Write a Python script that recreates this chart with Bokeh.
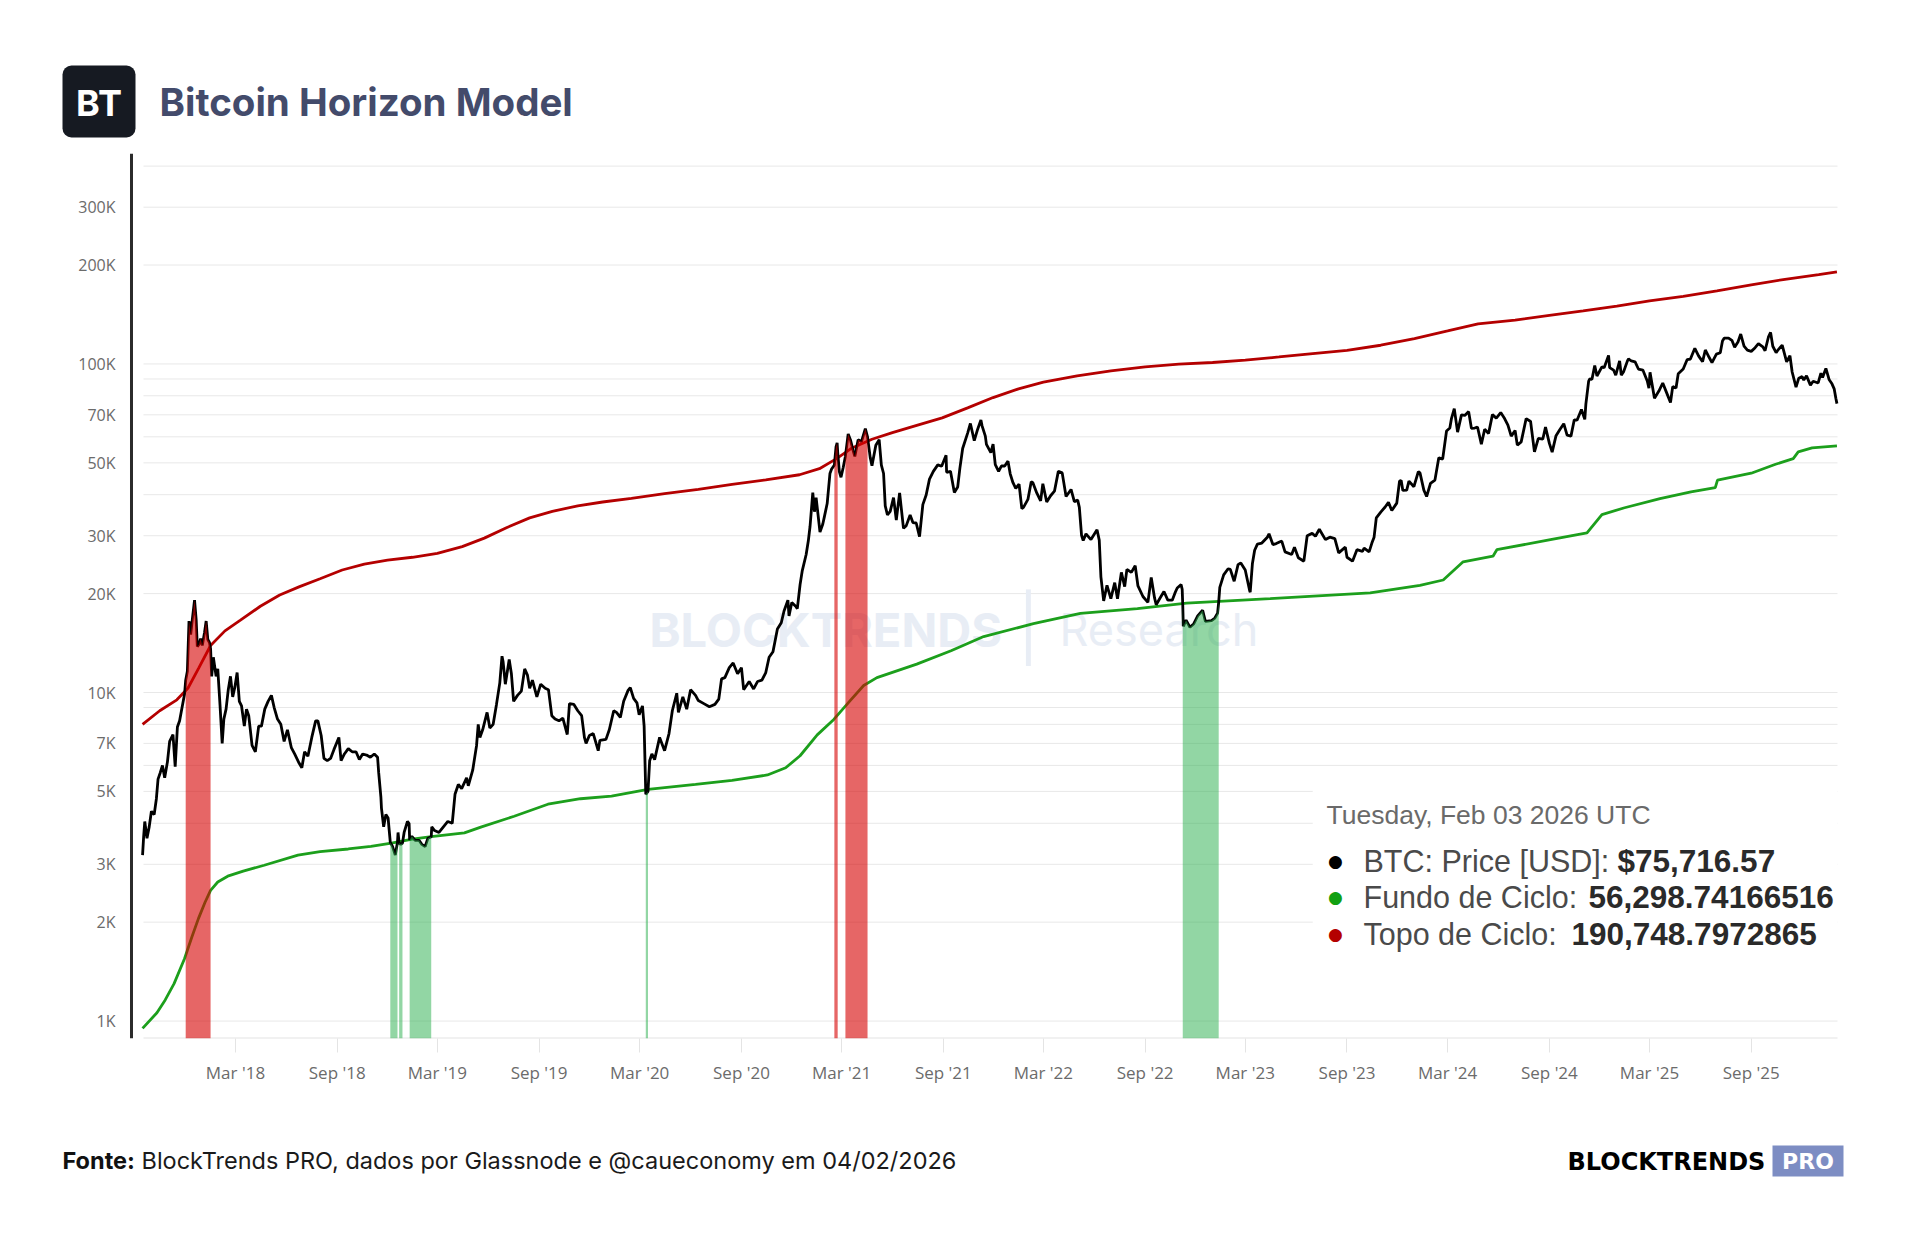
import pandas as pd
from bokeh.plotting import figure
from bokeh.layouts import column
from bokeh.models import (Range1d, FixedTicker, DatetimeTickFormatter, Label, BoxAnnotation)
from bokeh.embed import file_html
from bokeh.resources import INLINE

# ------------------------------------------------------------------ data
btc_2017 = [("2017-09-14", 3200), ("2017-09-16", 3650), ("2017-09-18", 4050), ("2017-09-22", 3600),
            ("2017-09-26", 3900), ("2017-09-30", 4350), ("2017-10-05", 4250), ("2017-10-09", 4750),
            ("2017-10-12", 5450), ("2017-10-16", 5700), ("2017-10-20", 6000), ("2017-10-24", 5500),
            ("2017-10-29", 6150), ("2017-11-02", 7100), ("2017-11-08", 7450), ("2017-11-12", 5950),
            ("2017-11-16", 7850), ("2017-11-20", 8200), ("2017-11-26", 9300), ("2017-11-29", 9900),
            ("2017-12-01", 10900), ("2017-12-04", 11600), ("2017-12-07", 16500), ("2017-12-10", 15000),
            ("2017-12-13", 16700), ("2017-12-17", 19100), ("2017-12-20", 16600), ("2017-12-22", 13800),
            ("2017-12-25", 14000), ("2017-12-28", 14600), ("2017-12-31", 13900)]
btc_2018 = [("2018-01-04", 15200), ("2018-01-07", 16500), ("2018-01-10", 14500), ("2018-01-13", 14200),
            ("2018-01-15", 13600), ("2018-01-17", 11200), ("2018-01-20", 12800), ("2018-01-25", 11200),
            ("2018-01-28", 11800), ("2018-02-01", 9200), ("2018-02-05", 7000), ("2018-02-08", 8300),
            ("2018-02-12", 8900), ("2018-02-16", 10200), ("2018-02-20", 11200), ("2018-02-24", 9700),
            ("2018-02-28", 10400), ("2018-03-04", 11500), ("2018-03-08", 9400), ("2018-03-12", 9100),
            ("2018-03-17", 7900), ("2018-03-21", 8900), ("2018-03-25", 8500), ("2018-03-31", 6900),
            ("2018-04-06", 6600), ("2018-04-12", 7900), ("2018-04-17", 7900), ("2018-04-23", 8900),
            ("2018-04-29", 9400), ("2018-05-05", 9800), ("2018-05-10", 9000), ("2018-05-16", 8300),
            ("2018-05-22", 8000), ("2018-05-28", 7100), ("2018-06-03", 7700), ("2018-06-10", 6800),
            ("2018-06-16", 6500), ("2018-06-24", 6100), ("2018-06-29", 5900), ("2018-07-04", 6600),
            ("2018-07-10", 6400), ("2018-07-17", 7300), ("2018-07-24", 8200), ("2018-07-28", 8200),
            ("2018-08-03", 7400), ("2018-08-08", 6300), ("2018-08-14", 6200), ("2018-08-20", 6300),
            ("2018-08-26", 6700), ("2018-09-04", 7300), ("2018-09-08", 6200), ("2018-09-14", 6500),
            ("2018-09-21", 6750), ("2018-09-28", 6600), ("2018-10-05", 6600), ("2018-10-11", 6250),
            ("2018-10-17", 6500), ("2018-10-24", 6450), ("2018-10-31", 6350), ("2018-11-07", 6500),
            ("2018-11-13", 6350), ("2018-11-15", 5700), ("2018-11-19", 4800), ("2018-11-20", 4450),
            ("2018-11-24", 3900), ("2018-11-28", 4250), ("2018-12-02", 4150), ("2018-12-06", 3500),
            ("2018-12-10", 3400), ("2018-12-15", 3200), ("2018-12-19", 3500), ("2018-12-20", 3750),
            ("2018-12-22", 3480), ("2018-12-25", 3450), ("2018-12-28", 3480), ("2018-12-31", 3750)]
btc_2019 = [("2019-01-06", 4050), ("2019-01-09", 3990), ("2019-01-10", 3560), ("2019-01-14", 3650),
            ("2019-01-20", 3550), ("2019-01-27", 3550), ("2019-02-01", 3450), ("2019-02-07", 3400),
            ("2019-02-12", 3600), ("2019-02-18", 3640), ("2019-02-19", 3900), ("2019-02-24", 3800),
            ("2019-03-04", 3750), ("2019-03-12", 3900), ("2019-03-20", 4050), ("2019-03-28", 4000),
            ("2019-04-02", 4900), ("2019-04-08", 5250), ("2019-04-14", 5100), ("2019-04-23", 5500),
            ("2019-04-26", 5200), ("2019-05-04", 5800), ("2019-05-11", 6900), ("2019-05-14", 8000),
            ("2019-05-17", 7300), ("2019-05-22", 7700), ("2019-05-30", 8700), ("2019-06-04", 7800),
            ("2019-06-10", 8000), ("2019-06-16", 9200), ("2019-06-22", 10700), ("2019-06-26", 12900),
            ("2019-06-28", 12400), ("2019-07-02", 10600), ("2019-07-09", 12600), ("2019-07-13", 11400),
            ("2019-07-17", 9400), ("2019-07-24", 9800), ("2019-07-31", 10100), ("2019-08-06", 11800),
            ("2019-08-11", 11300), ("2019-08-15", 10300), ("2019-08-20", 10900), ("2019-08-28", 9700),
            ("2019-09-04", 10600), ("2019-09-12", 10300), ("2019-09-18", 10200), ("2019-09-24", 8500),
            ("2019-09-30", 8300), ("2019-10-07", 8200), ("2019-10-14", 8350), ("2019-10-22", 7450),
            ("2019-10-26", 9250), ("2019-11-03", 9200), ("2019-11-10", 8800), ("2019-11-17", 8500),
            ("2019-11-22", 7300), ("2019-11-25", 7000), ("2019-12-01", 7400), ("2019-12-08", 7500),
            ("2019-12-17", 6650), ("2019-12-20", 7150), ("2019-12-31", 7200)]
btc_2020 = [("2020-01-06", 7700), ("2020-01-14", 8800), ("2020-01-19", 8700), ("2020-01-26", 8400),
            ("2020-02-01", 9400), ("2020-02-09", 10150), ("2020-02-13", 10350), ("2020-02-19", 9600),
            ("2020-02-25", 9300), ("2020-02-29", 8550), ("2020-03-06", 9100), ("2020-03-09", 7900),
            ("2020-03-12", 4900), ("2020-03-16", 5000), ("2020-03-19", 6200), ("2020-03-23", 6500),
            ("2020-03-28", 6250), ("2020-04-06", 7300), ("2020-04-15", 6650), ("2020-04-23", 7500),
            ("2020-04-29", 8800), ("2020-05-07", 9950), ("2020-05-10", 8700), ("2020-05-18", 9700),
            ("2020-05-25", 8900), ("2020-06-01", 10200), ("2020-06-10", 9800), ("2020-06-15", 9450),
            ("2020-06-25", 9250), ("2020-07-05", 9050), ("2020-07-15", 9200), ("2020-07-22", 9550),
            ("2020-07-27", 11000), ("2020-08-02", 11100), ("2020-08-10", 11900), ("2020-08-17", 12300),
            ("2020-08-25", 11400), ("2020-09-01", 11900), ("2020-09-05", 10200), ("2020-09-15", 10800),
            ("2020-09-23", 10250), ("2020-09-30", 10800), ("2020-10-08", 10900), ("2020-10-15", 11500),
            ("2020-10-21", 12800), ("2020-10-28", 13300), ("2020-11-05", 15600), ("2020-11-12", 16300),
            ("2020-11-17", 17700), ("2020-11-24", 19100), ("2020-11-26", 17100), ("2020-12-01", 18800),
            ("2020-12-08", 18300), ("2020-12-11", 18000), ("2020-12-16", 21300), ("2020-12-20", 23500),
            ("2020-12-27", 26300), ("2020-12-31", 29000)]
btc_2021 = [("2021-01-03", 32000), ("2021-01-08", 40600), ("2021-01-11", 35500), ("2021-01-14", 39200),
            ("2021-01-21", 30800), ("2021-01-26", 32500), ("2021-01-29", 34300), ("2021-02-03", 37600),
            ("2021-02-08", 46400), ("2021-02-11", 47900), ("2021-02-16", 49200), ("2021-02-19", 55900),
            ("2021-02-21", 57500), ("2021-02-22", 54000), ("2021-02-25", 47000), ("2021-02-28", 45200),
            ("2021-03-04", 48400), ("2021-03-08", 52400), ("2021-03-13", 61200), ("2021-03-17", 58800),
            ("2021-03-22", 54500), ("2021-03-25", 52300), ("2021-03-31", 58800), ("2021-04-06", 58000),
            ("2021-04-13", 63500), ("2021-04-17", 60000), ("2021-04-22", 51700), ("2021-04-25", 49000),
            ("2021-05-02", 56600), ("2021-05-08", 58800), ("2021-05-12", 49200), ("2021-05-16", 46400),
            ("2021-05-19", 37000), ("2021-05-23", 34700), ("2021-05-28", 35600), ("2021-06-03", 39200),
            ("2021-06-08", 33500), ("2021-06-14", 40500), ("2021-06-21", 31600), ("2021-06-26", 32200),
            ("2021-07-03", 34700), ("2021-07-08", 32900), ("2021-07-14", 32800), ("2021-07-20", 29800),
            ("2021-07-26", 37300), ("2021-08-01", 39900), ("2021-08-07", 44600), ("2021-08-14", 47100),
            ("2021-08-22", 49300), ("2021-08-29", 48800), ("2021-09-06", 52700), ("2021-09-07", 46800),
            ("2021-09-14", 47100), ("2021-09-21", 40600), ("2021-09-27", 42200), ("2021-10-01", 48200),
            ("2021-10-06", 55300), ("2021-10-15", 61600), ("2021-10-20", 65900), ("2021-10-27", 58400),
            ("2021-11-02", 63200), ("2021-11-08", 67500), ("2021-11-10", 64900), ("2021-11-16", 60300),
            ("2021-11-18", 56900), ("2021-11-26", 53700), ("2021-11-30", 57000), ("2021-12-04", 49400),
            ("2021-12-10", 47100), ("2021-12-15", 48900), ("2021-12-21", 48900), ("2021-12-27", 50600),
            ("2021-12-31", 46300)]
btc_2022 = [("2022-01-05", 43500), ("2022-01-10", 41800), ("2022-01-16", 43100), ("2022-01-21", 36300),
            ("2022-01-24", 36600), ("2022-02-01", 38700), ("2022-02-07", 43800), ("2022-02-10", 43500),
            ("2022-02-17", 40500), ("2022-02-24", 38300), ("2022-02-28", 43200), ("2022-03-07", 38000),
            ("2022-03-14", 39700), ("2022-03-21", 41000), ("2022-03-28", 47100), ("2022-04-04", 46600),
            ("2022-04-11", 39500), ("2022-04-20", 41500), ("2022-04-26", 38100), ("2022-05-02", 38500),
            ("2022-05-05", 36600), ("2022-05-09", 30100), ("2022-05-12", 29000), ("2022-05-17", 30400),
            ("2022-05-26", 29200), ("2022-06-06", 31300), ("2022-06-10", 29100), ("2022-06-13", 22500),
            ("2022-06-18", 19000), ("2022-06-24", 21200), ("2022-07-01", 19300), ("2022-07-08", 21600),
            ("2022-07-13", 19300), ("2022-07-20", 23200), ("2022-07-26", 21000), ("2022-07-30", 23700),
            ("2022-08-07", 23200), ("2022-08-14", 24300), ("2022-08-19", 21100), ("2022-08-28", 19600),
            ("2022-09-06", 18800), ("2022-09-12", 22400), ("2022-09-18", 19400), ("2022-09-21", 18500),
            ("2022-09-28", 19400), ("2022-10-05", 20300), ("2022-10-12", 19100), ("2022-10-20", 19100),
            ("2022-10-25", 20100), ("2022-10-29", 20800), ("2022-11-05", 21300), ("2022-11-07", 20600),
            ("2022-11-08", 18500), ("2022-11-09", 15900), ("2022-11-14", 16600), ("2022-11-21", 15800),
            ("2022-11-28", 16200), ("2022-12-05", 17100), ("2022-12-14", 17800), ("2022-12-19", 16450),
            ("2022-12-30", 16550)]
btc_2023 = [("2023-01-05", 16850), ("2023-01-10", 17450), ("2023-01-12", 18850), ("2023-01-14", 20900),
            ("2023-01-21", 22800), ("2023-01-29", 23800), ("2023-02-02", 23700), ("2023-02-09", 21800),
            ("2023-02-16", 24500), ("2023-02-21", 24800), ("2023-03-01", 23600), ("2023-03-09", 20400),
            ("2023-03-10", 20200), ("2023-03-14", 24700), ("2023-03-18", 27100), ("2023-03-23", 28300),
            ("2023-03-31", 28500), ("2023-04-10", 29700), ("2023-04-13", 30400), ("2023-04-20", 28200),
            ("2023-04-26", 28400), ("2023-05-06", 28900), ("2023-05-12", 26800), ("2023-05-24", 26300),
            ("2023-05-29", 27700), ("2023-06-05", 25700), ("2023-06-15", 25100), ("2023-06-21", 30000),
            ("2023-06-30", 30500), ("2023-07-06", 29900), ("2023-07-13", 31400), ("2023-07-24", 29200),
            ("2023-08-01", 29700), ("2023-08-10", 29400), ("2023-08-17", 26600), ("2023-08-29", 27700),
            ("2023-09-01", 25800), ("2023-09-11", 25100), ("2023-09-19", 27200), ("2023-09-29", 26900),
            ("2023-10-02", 27500), ("2023-10-11", 26800), ("2023-10-16", 28500), ("2023-10-20", 29700),
            ("2023-10-24", 34000), ("2023-11-01", 35400), ("2023-11-09", 36700), ("2023-11-15", 37900),
            ("2023-11-21", 35800), ("2023-11-30", 37700), ("2023-12-05", 44000), ("2023-12-08", 44200),
            ("2023-12-11", 41200), ("2023-12-18", 41300), ("2023-12-22", 44000), ("2023-12-31", 42300)]
btc_2024 = [("2024-01-08", 47000), ("2024-01-11", 46600), ("2024-01-18", 41300), ("2024-01-23", 39500),
            ("2024-01-30", 43300), ("2024-02-07", 44300), ("2024-02-14", 51800), ("2024-02-21", 51300),
            ("2024-02-28", 62500), ("2024-03-05", 63800), ("2024-03-08", 68300), ("2024-03-13", 73100),
            ("2024-03-19", 62000), ("2024-03-26", 70000), ("2024-04-01", 69700), ("2024-04-08", 71600),
            ("2024-04-13", 63700), ("2024-04-19", 63800), ("2024-04-24", 64300), ("2024-05-01", 57000),
            ("2024-05-07", 63300), ("2024-05-14", 61400), ("2024-05-21", 70100), ("2024-05-28", 68400),
            ("2024-06-05", 71100), ("2024-06-12", 68200), ("2024-06-18", 65100), ("2024-06-24", 60300),
            ("2024-07-01", 62700), ("2024-07-05", 56600), ("2024-07-12", 57900), ("2024-07-21", 68200),
            ("2024-07-29", 66800), ("2024-08-05", 54000), ("2024-08-12", 59400), ("2024-08-20", 59000),
            ("2024-08-25", 64200), ("2024-09-01", 57300), ("2024-09-06", 53900), ("2024-09-13", 60500),
            ("2024-09-20", 63200), ("2024-09-27", 65800), ("2024-10-03", 60700), ("2024-10-10", 60300),
            ("2024-10-16", 67600), ("2024-10-21", 67400), ("2024-10-29", 72700), ("2024-11-04", 67800),
            ("2024-11-06", 75600), ("2024-11-11", 88700), ("2024-11-13", 90000), ("2024-11-17", 89800),
            ("2024-11-22", 98900), ("2024-11-26", 91900), ("2024-12-05", 98000), ("2024-12-09", 97400),
            ("2024-12-17", 106100), ("2024-12-19", 97500), ("2024-12-26", 95800), ("2024-12-30", 92400)]
btc_2025 = [("2025-01-06", 102100), ("2025-01-09", 92500), ("2025-01-13", 94500), ("2025-01-20", 102000),
            ("2025-01-22", 103700), ("2025-01-27", 102100), ("2025-02-03", 101400), ("2025-02-09", 96500),
            ("2025-02-17", 95800), ("2025-02-25", 88700), ("2025-02-28", 84400), ("2025-03-02", 94300),
            ("2025-03-10", 78600), ("2025-03-18", 82700), ("2025-03-25", 87500), ("2025-03-31", 82500),
            ("2025-04-08", 76300), ("2025-04-12", 85300), ("2025-04-18", 84500), ("2025-04-22", 93400),
            ("2025-05-01", 96500), ("2025-05-08", 103000), ("2025-05-14", 103500), ("2025-05-22", 111600),
            ("2025-05-29", 105600), ("2025-06-05", 101600), ("2025-06-10", 110300), ("2025-06-17", 104600),
            ("2025-06-22", 100900), ("2025-06-30", 107100), ("2025-07-07", 108200), ("2025-07-11", 117500),
            ("2025-07-14", 119800), ("2025-07-22", 119900), ("2025-07-28", 118000), ("2025-08-02", 112500),
            ("2025-08-08", 116600), ("2025-08-13", 123300), ("2025-08-19", 113300), ("2025-08-25", 110100),
            ("2025-09-01", 109200), ("2025-09-08", 112100), ("2025-09-14", 115300), ("2025-09-22", 112700),
            ("2025-09-26", 109700), ("2025-10-02", 120600), ("2025-10-06", 124700), ("2025-10-10", 113200),
            ("2025-10-16", 108200), ("2025-10-20", 110600), ("2025-10-27", 114100), ("2025-11-04", 101500),
            ("2025-11-10", 106000), ("2025-11-14", 94500), ("2025-11-21", 85000), ("2025-11-26", 90500),
            ("2025-12-02", 91500), ("2025-12-05", 89300), ("2025-12-10", 92000), ("2025-12-17", 86200),
            ("2025-12-22", 88600), ("2025-12-31", 87500)]
btc_2026 = [("2026-01-05", 93700), ("2026-01-08", 91000), ("2026-01-14", 96900), ("2026-01-20", 89500),
            ("2026-01-25", 87000), ("2026-01-29", 84000), ("2026-02-01", 78600), ("2026-02-03", 75716.57)]

cycle_top = [("2017-09-14", 8000), ("2017-10-15", 8800), ("2017-11-15", 9500), ("2017-12-05", 10300),
             ("2017-12-25", 11900), ("2018-01-15", 13900), ("2018-02-10", 15400), ("2018-03-10", 16600),
             ("2018-04-15", 18300), ("2018-05-20", 19800), ("2018-06-25", 21000), ("2018-08-01", 22200),
             ("2018-09-10", 23600), ("2018-10-20", 24600), ("2018-12-01", 25300), ("2019-01-15", 25800),
             ("2019-03-01", 26500), ("2019-04-15", 27800), ("2019-05-25", 29500), ("2019-07-05", 31800),
             ("2019-08-15", 34000), ("2019-09-25", 35600), ("2019-11-10", 37000), ("2019-12-25", 38000),
             ("2020-02-15", 39000), ("2020-04-15", 40300), ("2020-06-15", 41500), ("2020-08-15", 43000),
             ("2020-10-15", 44400), ("2020-12-15", 46000), ("2021-01-20", 48000), ("2021-02-20", 51500),
             ("2021-03-20", 55500), ("2021-04-25", 59000), ("2021-06-01", 61800), ("2021-07-15", 65000),
             ("2021-08-30", 68500), ("2021-10-15", 73500), ("2021-11-30", 79000), ("2022-01-15", 84000),
             ("2022-03-01", 88000), ("2022-05-01", 92000), ("2022-07-01", 95200), ("2022-09-01", 98000),
             ("2022-11-01", 99800), ("2023-01-01", 101000), ("2023-03-01", 102700), ("2023-05-01", 105000),
             ("2023-07-01", 107500), ("2023-09-01", 110000), ("2023-11-01", 114000), ("2024-01-01", 119500),
             ("2024-03-01", 126000), ("2024-04-25", 132500), ("2024-07-01", 136000), ("2024-09-01", 140500),
             ("2024-11-01", 145000), ("2025-01-01", 150000), ("2025-03-01", 155500), ("2025-05-01", 160500),
             ("2025-07-01", 167000), ("2025-09-01", 174000), ("2025-11-01", 181000), ("2026-01-01", 187000),
             ("2026-02-03", 190748.7972865)]

cycle_bottom = [("2017-09-14", 950), ("2017-10-10", 1060), ("2017-10-25", 1160), ("2017-11-10", 1300),
                ("2017-11-29", 1550), ("2017-12-12", 1800), ("2017-12-24", 2050), ("2018-01-05", 2300),
                ("2018-01-15", 2500), ("2018-01-28", 2650), ("2018-02-15", 2760), ("2018-03-15", 2860),
                ("2018-04-22", 2980), ("2018-06-22", 3200), ("2018-08-01", 3280), ("2018-09-21", 3340),
                ("2018-11-01", 3400), ("2018-12-08", 3480), ("2019-01-15", 3580), ("2019-02-18", 3640),
                ("2019-04-19", 3740), ("2019-05-20", 3900), ("2019-07-18", 4200), ("2019-09-17", 4570),
                ("2019-11-15", 4750), ("2020-01-10", 4840), ("2020-03-16", 5070), ("2020-06-10", 5250),
                ("2020-08-15", 5400), ("2020-10-18", 5610), ("2020-11-20", 5900), ("2020-12-16", 6420),
                ("2021-01-16", 7430), ("2021-02-15", 8280), ("2021-03-17", 9460), ("2021-04-10", 10500),
                ("2021-05-04", 11100), ("2021-07-15", 12200), ("2021-09-15", 13400), ("2021-11-13", 14800),
                ("2022-02-11", 16200), ("2022-05-07", 17400), ("2022-08-18", 18000), ("2022-11-15", 18700),
                ("2023-04-15", 19300), ("2023-10-13", 20100), ("2024-01-11", 21200), ("2024-02-22", 22000),
                ("2024-03-29", 25000), ("2024-05-22", 26000), ("2024-05-29", 27200), ("2024-09-03", 29200),
                ("2024-11-08", 30600), ("2024-12-05", 34800), ("2025-01-15", 36500), ("2025-03-20", 38900),
                ("2025-05-15", 40800), ("2025-06-28", 42000), ("2025-07-02", 44300), ("2025-09-01", 46500),
                ("2025-10-15", 49500), ("2025-11-16", 51500), ("2025-11-25", 54000), ("2025-12-20", 55500),
                ("2026-02-03", 56298.74166516)]

red_band_start = ["2017-12-01", "2021-02-16", "2021-03-08"]
red_band_end = ["2018-01-15", "2021-02-22", "2021-04-17"]
green_band_start = ["2018-12-06", "2018-12-22", "2019-01-10", "2020-03-12", "2022-11-08"]
green_band_end = ["2018-12-19", "2018-12-28", "2019-02-18", "2020-03-16", "2023-01-12"]

x_tick_dates = ["2018-03-01", "2018-09-01", "2019-03-01", "2019-09-01", "2020-03-01", "2020-09-01",
                "2021-03-01", "2021-09-01", "2022-03-01", "2022-09-01", "2023-03-01", "2023-09-01",
                "2024-03-01", "2024-09-01", "2025-03-01", "2025-09-01"]
y_label_ticks = [1000, 2000, 3000, 5000, 7000, 10000, 20000, 30000, 50000, 70000,
                 100000, 200000, 300000]
y_label_text = ["1K", "2K", "3K", "5K", "7K", "10K", "20K", "30K", "50K", "70K", "100K", "200K", "300K"]
y_grid_ticks = [1000, 2000, 3000, 4000, 5000, 6000, 7000, 8000, 9000,
                10000, 20000, 30000, 40000, 50000, 60000, 70000, 80000, 90000,
                100000, 200000, 300000, 400000]

tooltip_date = "Tuesday, Feb 03 2026 UTC"
title_text = "Bitcoin Horizon Model"
source_bold = "Fonte:"
source_text = "BlockTrends PRO, dados por Glassnode e @caueconomy em 04/02/2026"

# ------------------------------------------------------------------ prep
btc = btc_2017 + btc_2018 + btc_2019 + btc_2020 + btc_2021 + btc_2022 + btc_2023 + btc_2024 + btc_2025 + btc_2026
btc_x = pd.to_datetime([d for d, _ in btc])
btc_y = [v for _, v in btc]
btc_s = pd.Series(btc_y, index=btc_x)
top_x = pd.to_datetime([d for d, _ in cycle_top])
top_y = [v for _, v in cycle_top]
bot_x = pd.to_datetime([d for d, _ in cycle_bottom])
bot_y = [v for _, v in cycle_bottom]

W, H = 1920, 1254
HEAD_H = 153
FOOT_TOP = 1110
FL, FR, FB = 131, 1837, 1038            # plot-area edges on the page
Y0, Y1 = 885, 437000
PLOT_L, PLOT_R = pd.Timestamp("2017-08-25"), pd.Timestamp("2026-02-04")
DPP = (PLOT_R - PLOT_L) / (FR - FL)       # time per pixel
X_START = PLOT_L - FL * DPP
X_END = PLOT_R + (W - FR) * DPP
GRID_L = PLOT_L + 12 * DPP


def sy(Y):
    return FB - Y


def ms(d):
    return pd.Timestamp(d).value / 1e6


def strip(h):
    f = figure(width=W, height=h, x_range=Range1d(0, W), y_range=Range1d(0, h),
               x_axis_location=None, y_axis_location=None, output_backend="svg",
               toolbar_location=None, min_border=0)
    f.min_border_left = f.min_border_right = f.min_border_top = f.min_border_bottom = 0
    f.grid.grid_line_color = None
    f.outline_line_color = None
    f.background_fill_color = "white"
    f.border_fill_color = "white"
    return f


# ------------------------------------------------------------------ header
head = strip(HEAD_H)
head.add_layout(BoxAnnotation(left=62, right=135, top=HEAD_H - 65, bottom=HEAD_H - 137,
                              fill_color="#161a22", fill_alpha=1.0, line_color=None, border_radius=9))
head.add_layout(Label(x=98.5, y=HEAD_H - 102, text="BT", text_align="center", text_baseline="middle",
                      text_font="Inter", text_font_style="bold", text_font_size="36px", text_color="white"))
head.add_layout(Label(x=159, y=HEAD_H - 101, text=title_text, text_baseline="middle", text_font="Inter",
                      text_font_style="bold", text_font_size="38.5px", text_color="#434b6b"))

# ------------------------------------------------------------------ main chart
MAIN_H = FOOT_TOP - HEAD_H
p = figure(width=W, height=MAIN_H, x_axis_type="datetime", y_axis_type="log",
           x_range=Range1d(X_START, X_END), y_range=Range1d(Y0, Y1), y_axis_location=None,
           output_backend="svg", toolbar_location=None,
           min_border_left=0, min_border_right=0, min_border_top=0, min_border_bottom=FOOT_TOP - FB)
p.background_fill_color = "white"
p.border_fill_color = "white"
p.outline_line_color = None
p.grid.grid_line_color = None

p.xaxis.ticker = FixedTicker(ticks=[ms(d) for d in x_tick_dates])
p.xaxis.formatter = DatetimeTickFormatter(days="%b '%y", months="%b '%y", years="%b '%y")
p.xaxis.axis_line_color = None
p.xaxis.major_tick_line_color = "#e4e4e4"
p.xaxis.major_tick_out = 14
p.xaxis.major_tick_in = 0
p.xaxis.minor_tick_line_color = None
p.xaxis.major_label_standoff = 8
p.xaxis.major_label_text_font = "Open Sans"
p.xaxis.major_label_text_font_size = "17px"
p.xaxis.major_label_text_color = "#6b6b6b"

# horizontal grid, x baseline and y axis line
n = len(y_grid_ticks)
p.segment(x0=[GRID_L] * n, x1=[PLOT_R] * n, y0=y_grid_ticks, y1=y_grid_ticks,
          line_color="#e8e8e8", line_width=1, level="underlay")
p.segment(x0=[GRID_L], x1=[PLOT_R], y0=[Y0], y1=[Y0], line_color="#e4e4e4", line_width=2, level="underlay")
p.segment(x0=[PLOT_L], x1=[PLOT_L], y0=[Y0], y1=[Y1], line_color="#2b2b2b", line_width=3)

# y tick labels
for t, s in zip(y_label_ticks, y_label_text):
    p.add_layout(Label(x=115, y=t, x_units="screen", y_units="data", text=s, text_align="right",
                       text_baseline="middle", text_font="Open Sans", text_font_size="16px",
                       text_color="#6b6b6b"))

# watermark
wm = dict(x_units="screen", y_units="screen", text_baseline="middle", text_color="#e8edf5", level="underlay")
p.add_layout(Label(x=649, y=sy(629), text="BLOCKTRENDS", text_font="Inter", text_font_style="bold",
                   text_font_size="47px", **wm))
p.add_layout(Label(x=1028, y=sy(627), text="|", text_font="Inter", text_font_size="64px",
                   text_align="center", **wm))
p.add_layout(Label(x=1059, y=sy(629), text="Research", text_font="Inter", text_font_size="45px", **wm))

# model lines and price
p.line(bot_x, bot_y, line_color="#1c9f1c", line_width=2.8)
p.line(top_x, top_y, line_color="#b40000", line_width=2.8)
p.line(btc_x, btc_y, line_color="#000000", line_width=2.8)

# shaded periods: area under price where it breaks out of the model channel
for s, e in zip(red_band_start, red_band_end):
    seg = btc_s[(btc_s.index >= s) & (btc_s.index <= e)]
    p.varea(x=seg.index, y1=Y0, y2=seg.values, fill_color="#d50000", fill_alpha=0.6)
for s, e in zip(green_band_start, green_band_end):
    seg = btc_s[(btc_s.index >= s) & (btc_s.index <= e)]
    p.varea(x=seg.index, y1=Y0, y2=seg.values, fill_color="#2eb050", fill_alpha=0.52)

# tooltip panel
p.add_layout(BoxAnnotation(left=ms("2023-07-01"), right=ms(PLOT_R), bottom=1480, top=5400,
                           fill_color="white", fill_alpha=1.0, line_color=None))
tt = dict(x_units="screen", y_units="screen", text_baseline="middle", text_font="Liberation Sans")
p.add_layout(Label(x=1326, y=sy(814), text=tooltip_date, text_font_size="26.5px",
                   text_color="#6a6a6a", **tt))
rows = [("BTC: Price [USD]: ", f"${btc_y[-1]:,.2f}", "#000000", 860, 1617),
        ("Fundo de Ciclo: ", f"{bot_y[-1]:,.8f}", "#12a012", 896, 1588),
        ("Topo de Ciclo: ", f"{top_y[-1]:,.7f}", "#b40000", 933, 1571)]
for name, val, col, yy, xb in rows:
    p.add_layout(Label(x=1335, y=sy(yy), text="\u25cf", text_align="center", text_font="DejaVu Sans",
                       text_font_size="17px", text_color=col, x_units="screen", y_units="screen",
                       text_baseline="middle"))
    p.add_layout(Label(x=1363, y=sy(yy), text=name, text_font_size="30.5px", text_color="#4a4a4a", **tt))
    p.add_layout(Label(x=xb, y=sy(yy), text=val, text_font_size="31.5px", text_font_style="bold",
                       text_color="#2a2a2a", **tt))

# ------------------------------------------------------------------ footer
FOOT_H = H - FOOT_TOP
foot = strip(FOOT_H)
fy = H - 1160
foot.add_layout(Label(x=62, y=fy, text=source_bold, text_baseline="middle", text_font="Inter",
                      text_font_style="bold", text_font_size="23.5px", text_color="#111111"))
foot.add_layout(Label(x=141, y=fy, text=source_text, text_baseline="middle", text_font="Inter",
                      text_font_size="23.5px", text_color="#1a1a1a"))
foot.add_layout(Label(x=1567, y=H - 1161, text="BLOCKTRENDS", text_baseline="middle",
                      text_font="DejaVu Sans", text_font_style="bold", text_font_size="24px",
                      text_color="#000000"))
foot.add_layout(BoxAnnotation(left=1772, right=1843, top=H - 1145, bottom=H - 1176,
                              fill_color="#7d8dc3", fill_alpha=1.0, line_color=None))
foot.add_layout(Label(x=1807.5, y=H - 1161, text="PRO", text_align="center", text_baseline="middle",
                      text_font="DejaVu Sans", text_font_style="bold", text_font_size="22px",
                      text_color="white"))

layout = column(head, p, foot, spacing=0)
open("out.html", "w").write(file_html(layout, INLINE))
